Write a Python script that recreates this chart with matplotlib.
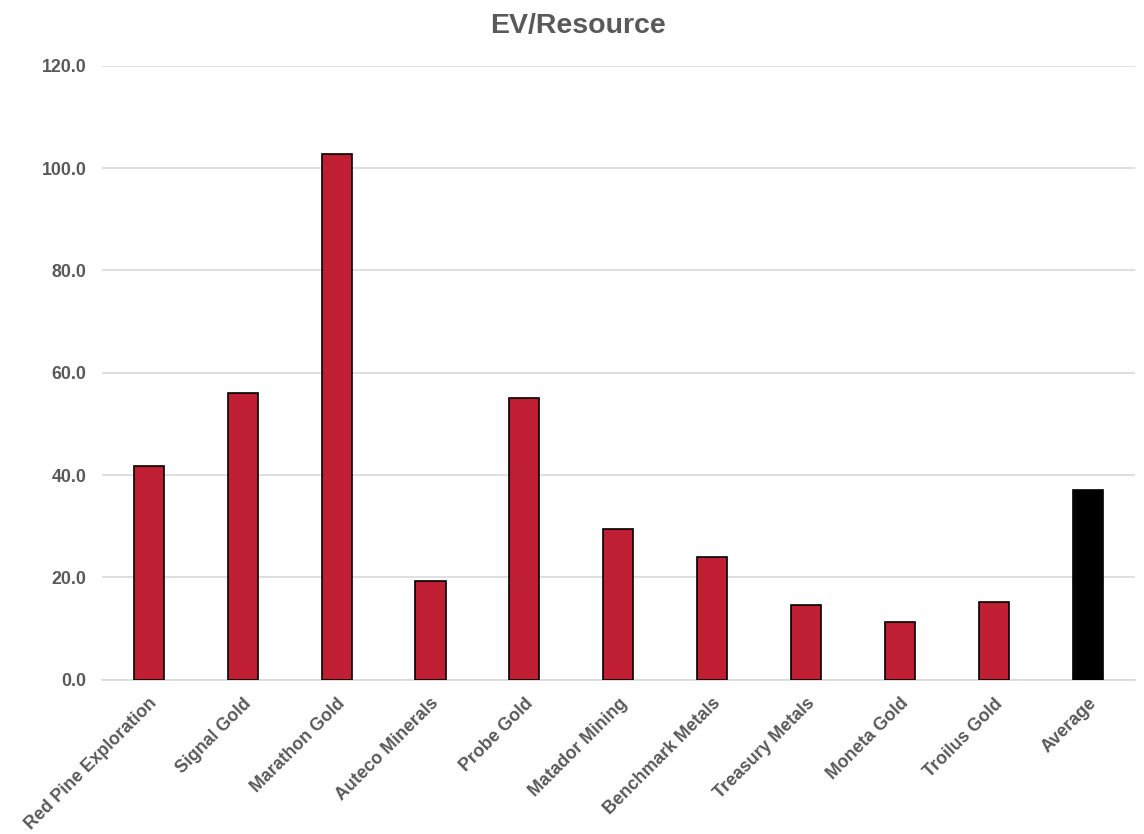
import matplotlib
matplotlib.use("Agg")
import matplotlib.pyplot as plt
import numpy as np

plt.rcParams['font.family'] = ['Liberation Sans', 'DejaVu Sans']

companies = ['Red Pine Exploration', 'Signal Gold', 'Marathon Gold', 'Auteco Minerals',
             'Probe Gold', 'Matador Mining', 'Benchmark Metals', 'Treasury Metals',
             'Moneta Gold', 'Troilus Gold', 'Average']
ev_resource = [41.8, 56.1, 102.8, 19.3, 55.1, 29.5, 24.0, 14.7, 11.3, 15.2, 37.1]
bar_colors = ['#C01F33'] * 10 + ['#000000']

fig = plt.figure(figsize=(11.44, 8.34), dpi=100)
ax = fig.add_axes([0.089, 0.185, 0.903, 0.736])

x = np.arange(len(companies))
ax.bar(x, ev_resource, width=0.32, color=bar_colors, edgecolor='black', linewidth=1.2, zorder=3)

ax.set_xlim(-0.5, len(companies) - 0.5)
ax.set_ylim(0, 120)
ax.set_yticks(np.arange(0, 121, 20))
ax.set_yticklabels([f'{v:.1f}' for v in np.arange(0, 121, 20)])
ax.yaxis.grid(True, color='#D9D9D9', linewidth=1.2, zorder=0)
ax.set_axisbelow(True)

ax.set_xticks(x)
ax.set_xticklabels(companies, rotation=45, ha='right', rotation_mode='anchor')

for s in ['top', 'right', 'left']:
    ax.spines[s].set_visible(False)
ax.spines['bottom'].set_color('#D9D9D9')
ax.spines['bottom'].set_linewidth(1.2)

ax.tick_params(axis='both', length=0, labelsize=12.8, labelcolor='#595959')
ax.tick_params(axis='y', pad=11)
ax.tick_params(axis='x', pad=11)
for lbl in ax.get_xticklabels() + ax.get_yticklabels():
    lbl.set_fontweight('bold')

fig.suptitle('EV/Resource', x=0.505, y=0.985, fontsize=20.5, fontweight='bold', color='#595959')

fig.savefig('out.png', dpi=100)
